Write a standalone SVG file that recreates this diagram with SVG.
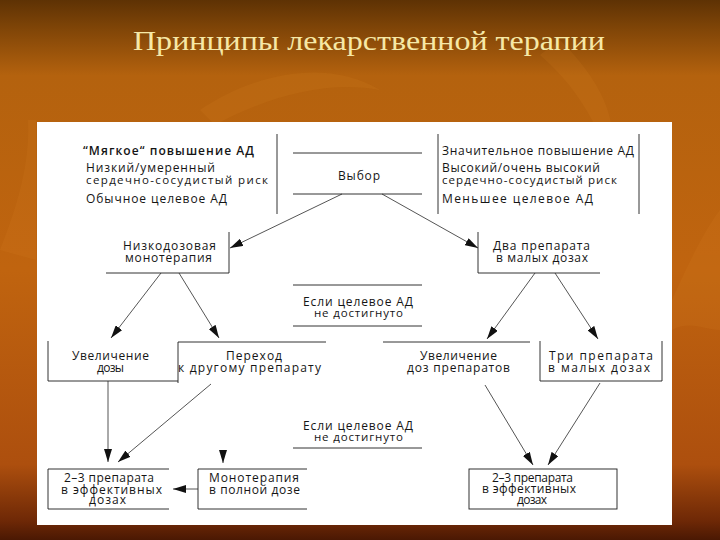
<svg xmlns="http://www.w3.org/2000/svg" width="720" height="540" viewBox="0 0 720 540">
  <defs>
    <linearGradient id="bg" x1="0" y1="0" x2="0" y2="1">
      <stop offset="0" stop-color="#5e3204"/>
      <stop offset="0.05" stop-color="#7e4407"/>
      <stop offset="0.14" stop-color="#b4620e"/>
      <stop offset="0.5" stop-color="#c0640f"/>
      <stop offset="0.86" stop-color="#ad4f0e"/>
      <stop offset="0.965" stop-color="#6e2806"/>
      <stop offset="1" stop-color="#4a1803"/>
    </linearGradient>
    <marker id="ah" viewBox="0 0 13 8" refX="13" refY="4" markerWidth="13" markerHeight="8" markerUnits="userSpaceOnUse" orient="auto">
      <path d="M0,0 L13,4 L0,8 Z" fill="#111"/>
    </marker>
    <style>
      .t { font-family: "Open Sans", "Noto Sans", "DejaVu Sans", sans-serif; font-size: 12px; fill: #151515; }
      .s { font-size: 11.5px; }
      .b { font-weight: 600; }
      .ln { stroke: #1c1c1c; stroke-width: 0.9; fill: none; }
      .ar { stroke: #2a2a2a; stroke-width: 0.8; fill: none; marker-end: url(#ah); }
    </style>
  </defs>

  <rect x="0" y="0" width="720" height="540" fill="url(#bg)"/>
  <g opacity="0.12" fill="#e08a2a">
    <path d="M200,110 C260,70 330,60 380,90 C330,80 270,95 215,125 Z"/>
    <path d="M560,40 C600,80 620,120 610,160 C595,120 575,85 540,55 Z"/>
    <path d="M0,250 C20,200 30,160 28,120 L36,120 L36,260 Z"/>
    <path d="M672,300 C690,260 705,230 720,210 L720,330 C705,330 690,320 672,330 Z"/>
  </g>

  <text x="369" y="50" text-anchor="middle" font-family="'Liberation Serif', 'DejaVu Serif', serif" font-size="27" fill="#f6e8a6" textLength="472" lengthAdjust="spacingAndGlyphs">Принципы лекарственной терапии</text>

  <rect x="37" y="122" width="635" height="403" fill="#ffffff"/>

  <g id="criteria-left">
    <text class="t b" x="83" y="155" textLength="171">“Мягкое“ повышение АД</text>
    <text class="t" x="86" y="172" textLength="129">Низкий/умеренный</text>
    <text class="t s" x="86" y="184" textLength="182">сердечно-сосудистый риск</text>
    <text class="t" x="86" y="202.5" textLength="141">Обычное целевое АД</text>
    <line class="ln" x1="277" y1="134" x2="277" y2="214"/>
  </g>

  <g id="criteria-right">
    <line class="ln" x1="438" y1="134" x2="438" y2="214"/>
    <text class="t" x="442" y="154.5" textLength="192">Значительное повышение АД</text>
    <text class="t" x="442" y="172" textLength="158">Высокий/очень высокий</text>
    <text class="t s" x="442" y="184" textLength="175">сердечно-сосудистый риск</text>
    <text class="t" x="442" y="203" textLength="151">Меньшее целевое АД</text>
    <line class="ln" x1="639" y1="134" x2="639" y2="214"/>
  </g>

  <g id="choice">
    <line class="ln" x1="293" y1="153" x2="422" y2="153"/>
    <text class="t" x="338" y="180" textLength="42">Выбор</text>
    <line class="ln" x1="293" y1="194" x2="422" y2="194"/>
  </g>

  <g id="low-dose-mono">
    <text class="t" x="123" y="250" textLength="93">Низкодозовая</text>
    <text class="t" x="125" y="262" textLength="87">монотерапия</text>
    <polyline class="ln" points="229,232 229,273 106,273"/>
  </g>

  <g id="two-drugs-low">
    <text class="t" x="493" y="250" textLength="97">Два препарата</text>
    <text class="t" x="496" y="262" textLength="92">в малых дозах</text>
    <polyline class="ln" points="478,232 478,273 600,273"/>
  </g>

  <g id="condition-1">
    <line class="ln" x1="293" y1="285" x2="422" y2="285"/>
    <text class="t" x="303" y="305.5" textLength="110">Если целевое АД</text>
    <text class="t s" x="314" y="316.5" textLength="89">не достигнуто</text>
    <line class="ln" x1="293" y1="326" x2="422" y2="326"/>
  </g>

  <g id="increase-dose">
    <text class="t" x="72" y="360" textLength="77">Увеличение</text>
    <text class="t" x="97" y="371.5" textLength="27">дозы</text>
    <polyline class="ln" points="48,341 48,381 178,381"/>
  </g>

  <g id="switch-drug">
    <polyline class="ln" points="178,383 178,342 326,342"/>
    <text class="t" x="226" y="360" textLength="56">Переход</text>
    <text class="t" x="178" y="371.5" textLength="143">к другому препарату</text>
  </g>

  <g id="increase-doses">
    <line class="ln" x1="383" y1="342" x2="530" y2="342"/>
    <text class="t" x="420" y="360" textLength="77">Увеличение</text>
    <text class="t" x="407" y="371.5" textLength="103">доз препаратов</text>
  </g>

  <g id="three-drugs-low">
    <polyline class="ln" points="540,341 540,381 662,381 662,341"/>
    <text class="t" x="549" y="360" textLength="104">Три препарата</text>
    <text class="t" x="548" y="371.5" textLength="102">в малых дозах</text>
  </g>

  <g id="condition-2">
    <text class="t" x="303" y="430" textLength="110">Если целевое АД</text>
    <text class="t s" x="314" y="440.5" textLength="89">не достигнуто</text>
    <line class="ln" x1="293" y1="448" x2="422" y2="448"/>
  </g>

  <g id="combo-left">
    <polyline class="ln" points="169,469 48,469 48,509 169,509"/>
    <text class="t" x="64" y="482" textLength="90">2–3 препарата</text>
    <text class="t" x="61" y="493.5" textLength="101">в эффективных</text>
    <text class="t" x="89" y="504" textLength="37">дозах</text>
  </g>

  <g id="full-mono">
    <polyline class="ln" points="307,469 198,469 198,509 307,509"/>
    <text class="t" x="209" y="482" textLength="90">Монотерапия</text>
    <text class="t" x="209" y="493.5" textLength="91">в полной дозе</text>
  </g>

  <g id="combo-right">
    <rect class="ln" x="469" y="469" width="148" height="40"/>
    <text class="t" x="492" y="482" textLength="81">2–3 препарата</text>
    <text class="t" x="482" y="493" textLength="94">в эффективных</text>
    <text class="t" x="517" y="503.5" textLength="30">дозах</text>
  </g>

  <g id="connectors">
    <line class="ar" x1="342" y1="194" x2="230" y2="248"/>
    <line class="ar" x1="382" y1="194" x2="478" y2="248"/>
    <line class="ar" x1="161" y1="273" x2="111" y2="338"/>
    <line class="ar" x1="179" y1="273" x2="219" y2="338"/>
    <line class="ar" x1="535" y1="273" x2="487" y2="339"/>
    <line class="ar" x1="555" y1="273" x2="598" y2="339"/>
    <line class="ar" x1="108" y1="381" x2="108" y2="462"/>
    <line class="ar" x1="211" y1="384" x2="118" y2="462"/>
    <line class="ar" x1="223" y1="450" x2="223" y2="463"/>
    <line class="ar" x1="198" y1="489" x2="173" y2="489"/>
    <line class="ar" x1="485" y1="385" x2="533" y2="465"/>
    <line class="ar" x1="600" y1="383" x2="548" y2="465"/>
  </g>
</svg>
